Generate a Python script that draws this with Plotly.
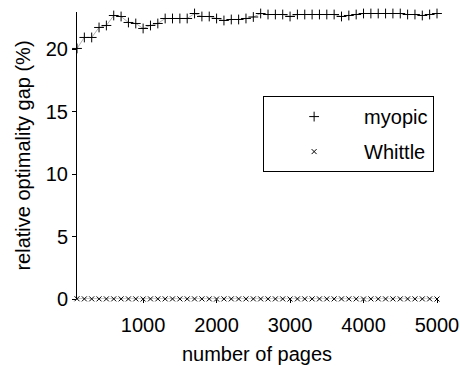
import plotly.graph_objects as go

pages = [100, 200, 300, 400, 500, 600, 700, 800, 900, 1000,
         1100, 1200, 1300, 1400, 1500, 1600, 1700, 1800, 1900, 2000,
         2100, 2200, 2300, 2400, 2500, 2600, 2700, 2800, 2900, 3000,
         3100, 3200, 3300, 3400, 3500, 3600, 3700, 3800, 3900, 4000,
         4100, 4200, 4300, 4400, 4500, 4600, 4700, 4800, 4900, 5000]

myopic = [20.08, 20.96, 20.96, 21.76, 21.92, 22.72, 22.64, 22.16, 22.08, 21.68,
          21.92, 22.08, 22.48, 22.48, 22.48, 22.48, 22.88, 22.64, 22.64, 22.48,
          22.32, 22.40, 22.40, 22.48, 22.60, 22.88, 22.80, 22.80, 22.80, 22.64,
          22.80, 22.80, 22.80, 22.80, 22.80, 22.80, 22.64, 22.72, 22.80, 22.88,
          22.88, 22.88, 22.88, 22.88, 22.88, 22.80, 22.80, 22.72, 22.80, 22.88]

whittle = [0.02, 0.01, 0.01, 0.01, 0.01, 0.01, 0.01, 0.01, 0.01, 0.0,
           0.01, 0.01, 0.01, 0.01, 0.01, 0.01, 0.01, 0.01, 0.01, 0.0,
           0.01, 0.01, 0.01, 0.01, 0.01, 0.01, 0.01, 0.01, 0.01, 0.0,
           0.01, 0.01, 0.01, 0.01, 0.01, 0.01, 0.01, 0.01, 0.01, 0.0,
           0.01, 0.01, 0.01, 0.01, 0.01, 0.01, 0.01, 0.01, 0.01, 0.0]

x_ticks = [1000, 2000, 3000, 4000, 5000]
y_ticks = [0, 5, 10, 15, 20]

FONT = "Liberation Sans, Arial, sans-serif"

fig = go.Figure()
# connecting lines (not in legend)
for ys in (myopic, whittle):
    fig.add_trace(go.Scatter(
        x=pages, y=ys, mode="lines", showlegend=False, hoverinfo="skip",
        line=dict(color="#b0b0b0", width=1), cliponaxis=False))
fig.add_trace(go.Scatter(
    x=pages, y=myopic, name="myopic", mode="markers",
    marker=dict(symbol="cross-thin", size=7, color="black",
                line=dict(color="black", width=1)),
    cliponaxis=False, legendgroup="a"))
fig.add_trace(go.Scatter(
    x=pages, y=whittle, name="Whittle", mode="markers",
    marker=dict(symbol="x-thin", size=5, color="black",
                line=dict(color="black", width=1)),
    cliponaxis=False, legendgroup="b"))

fig.update_layout(
    width=460, height=366,
    margin=dict(l=77, r=23, t=12, b=67),
    paper_bgcolor="white", plot_bgcolor="white",
    font=dict(family=FONT, size=20, color="black"),
    showlegend=True,
    legend=dict(x=0.517, y=0.707, xanchor="left", yanchor="top",
                bordercolor="black", borderwidth=1, bgcolor="white",
                itemwidth=90, tracegroupgap=6,
                font=dict(family=FONT, size=20, color="black")),
    xaxis=dict(range=[100, 5000], tickvals=x_ticks, showline=False,
               showgrid=False, zeroline=False, ticks="outside", ticklen=3,
               tickcolor="black", ticklabelstandoff=5, automargin=False,
               title=dict(text="number of pages", standoff=11,
                          font=dict(family=FONT, size=20))),
    yaxis=dict(range=[0, 23], tickvals=y_ticks, showline=True,
               linecolor="black", linewidth=1, showgrid=False,
               zeroline=False, ticks="outside", ticklen=4, tickcolor="black",
               automargin=False,
               title=dict(text="relative optimality gap (%)", standoff=9,
                          font=dict(family=FONT, size=20))),
)

fig.write_html("out.html",
               config={"displayModeBar": False, "staticPlot": True},
               post_script="document.body.style.margin='0';"
                           "document.body.style.overflow='hidden';")
